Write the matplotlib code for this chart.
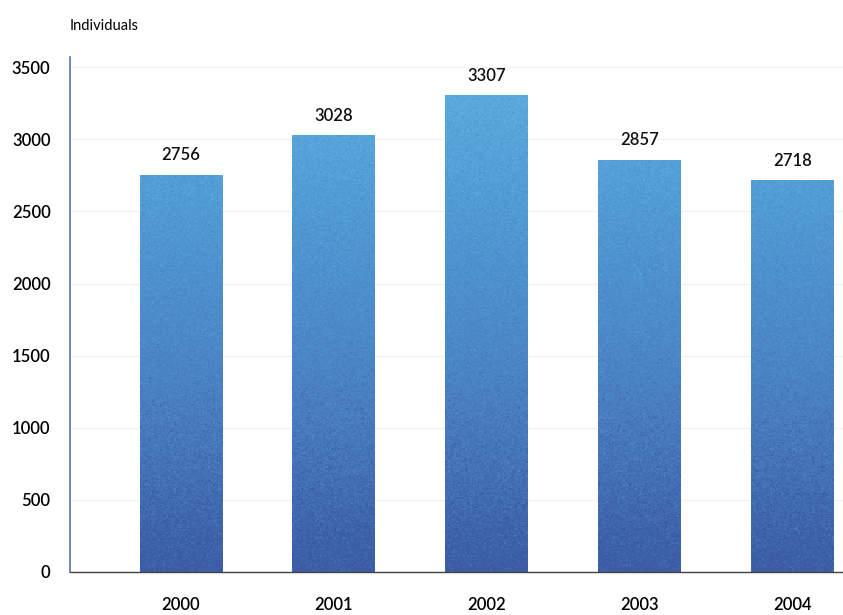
import numpy as np
import matplotlib.pyplot as plt
from matplotlib.colors import LinearSegmentedColormap

years = ['2000', '2001', '2002', '2003', '2004']
individuals = [2756, 3028, 3307, 2857, 2718]
yticks = [0, 500, 1000, 1500, 2000, 2500, 3000, 3500]

plt.rcParams['font.family'] = ['Lato', 'DejaVu Sans']

fig = plt.figure(figsize=(8.43, 6.15), dpi=100)
ax = fig.add_axes([0.083, 0.07, 0.917, 0.837])

x = np.arange(len(years))
bars = ax.bar(x, individuals, width=0.54, color='none', edgecolor='none', zorder=2)

ax.set_xlim(-0.725, 4.33)
ax.set_ylim(0, 3570)

# vertical blue gradient with a fine grain, clipped to each bar
cmap = LinearSegmentedColormap.from_list(
    'blues', ['#3b5ca4', '#4a80c2', '#4f98d2', '#5eaee0'])
rng = np.random.default_rng(3)
ny, nx = 400, 500
grad = np.linspace(0, 1, ny)[:, None] * np.ones((1, nx))
grain = grad + rng.normal(0, 0.06, (ny, nx))
for b in bars:
    im = ax.imshow(grain, cmap=cmap, origin='lower', aspect='auto',
                   extent=(-0.725, 4.33, 0, 3570), vmin=0, vmax=1,
                   interpolation='nearest', zorder=2)
    im.set_clip_path(b)

for xi, v in zip(x, individuals):
    ax.text(xi, v + 80, str(v), ha='center', va='bottom', fontsize=12,
            color='#111111', fontweight='semibold')

ax.set_xticks(x)
ax.set_xticklabels(years, fontsize=12, fontweight='semibold')
ax.set_yticks(yticks)
ax.set_yticklabels([str(t) for t in yticks], fontsize=12, fontweight='semibold')
ax.tick_params(axis='x', length=0, pad=18)
ax.tick_params(axis='y', length=0, pad=14)

ax.grid(axis='y', color='#f2f2f2', linewidth=1, zorder=0)
ax.set_axisbelow(True)

for s in ['top', 'right']:
    ax.spines[s].set_visible(False)
ax.spines['left'].set_color('#5878a0')
ax.spines['left'].set_linewidth(1.2)
ax.spines['bottom'].set_color('#444444')
ax.spines['bottom'].set_linewidth(1.0)

fig.text(0.083, 0.958, 'Individuals', fontsize=10.5, ha='left', va='center')

fig.savefig('out.png', dpi=100)
